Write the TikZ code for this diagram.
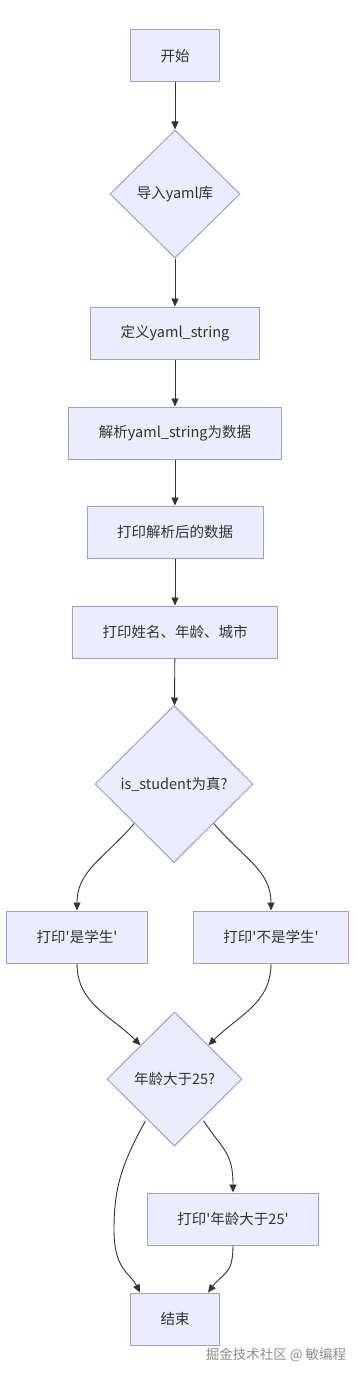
\documentclass[tikz,border=0pt]{standalone}
\usepackage{fontspec}
\setmainfont{Noto Sans CJK SC}[Ligatures=TeXOff]
\usetikzlibrary{arrows.meta, shapes.geometric, calc}
\definecolor{boxfill}{HTML}{ECECFF}
\definecolor{boxline}{HTML}{A39AD8}
\definecolor{ink}{HTML}{333333}

\begin{document}
\begin{tikzpicture}[x=1pt,y=-1pt,
  box/.style={draw=boxline,fill=boxfill,line width=1pt,minimum height=52pt,
    inner xsep=30pt,text=ink,font=\fontsize{14.5pt}{16pt}\selectfont},
  dia/.style={diamond,draw=boxline,fill=boxfill,line width=1pt,inner sep=0pt,
    text=ink,font=\fontsize{14.5pt}{16pt}\selectfont},
  line/.style={draw=ink,line width=0.9pt,-{Triangle[length=8pt,width=7pt]}}]
  \useasboundingbox[fill=white] (0,0) rectangle (356,1375);
  % main column
  \node[box] (start) at (175,56) {开始};
  \node[dia,minimum width=130pt,minimum height=128pt] (imp) at (175,194) {导入yaml库};
  \node[box] (def) at (175,333) {定义yaml\_string};
  \node[box] (parse) at (175,433) {解析yaml\_string为数据};
  \node[box] (prdata) at (175,532) {打印解析后的数据};
  \node[box] (prinfo) at (175,632) {打印姓名、年龄、城市};
  \node[dia,minimum width=158pt,minimum height=157pt] (isstu) at (174,784) {is\_student为真?};
  % branches
  \node[box,minimum width=140pt] (yes) at (77,937) {打印'是学生'};
  \node[box,minimum width=154pt] (no) at (271,937) {打印'不是学生'};
  \node[dia,minimum width=135pt,minimum height=134pt] (age) at (174.5,1079) {年龄大于25?};
  \node[box,minimum width=170pt] (prage) at (233,1219) {打印'年龄大于25'};
  \node[box,minimum width=89pt] (stop) at (175,1319) {结束};
  % straight arrows
  \draw[line] (start) -- (imp);
  \draw[line] (imp) -- (def);
  \draw[line] (def) -- (parse);
  \draw[line] (parse) -- (prdata);
  \draw[line] (prdata) -- (prinfo);
  \draw[line] (prinfo) -- (isstu);
  % curved arrows
  \draw[line] (isstu.south west) .. controls +(-30,35) and +(0,-40) .. (yes.north);
  \draw[line] (isstu.south east) .. controls +(30,35) and +(0,-40) .. (no.north);
  \draw[line] (yes.south) .. controls +(0,40) and +(-30,-30) .. (age.north west);
  \draw[line] (no.south) .. controls +(0,40) and +(30,-30) .. (age.north east);
  \draw[line] ($(age.south west)+(5,8)$) .. controls +(-25,45) and +(0,-40) .. (114,1230)
    .. controls +(0,40) and +(-10,-20) .. ($(stop.north)+(-35,0)$);
  \draw[line] ($(age.south east)+(-5,8)$) .. controls +(20,30) and +(0,-40) .. (prage.north);
  \draw[line] (prage.south) .. controls +(0,30) and +(15,-20) .. ($(stop.north)+(33,0)$);
  % watermark
  \node[text=black!45,font=\fontsize{13.5pt}{15pt}\selectfont] (mark) at (276,1355) {掘金技术社区 @ 敏编程};
\end{tikzpicture}
\end{document}
